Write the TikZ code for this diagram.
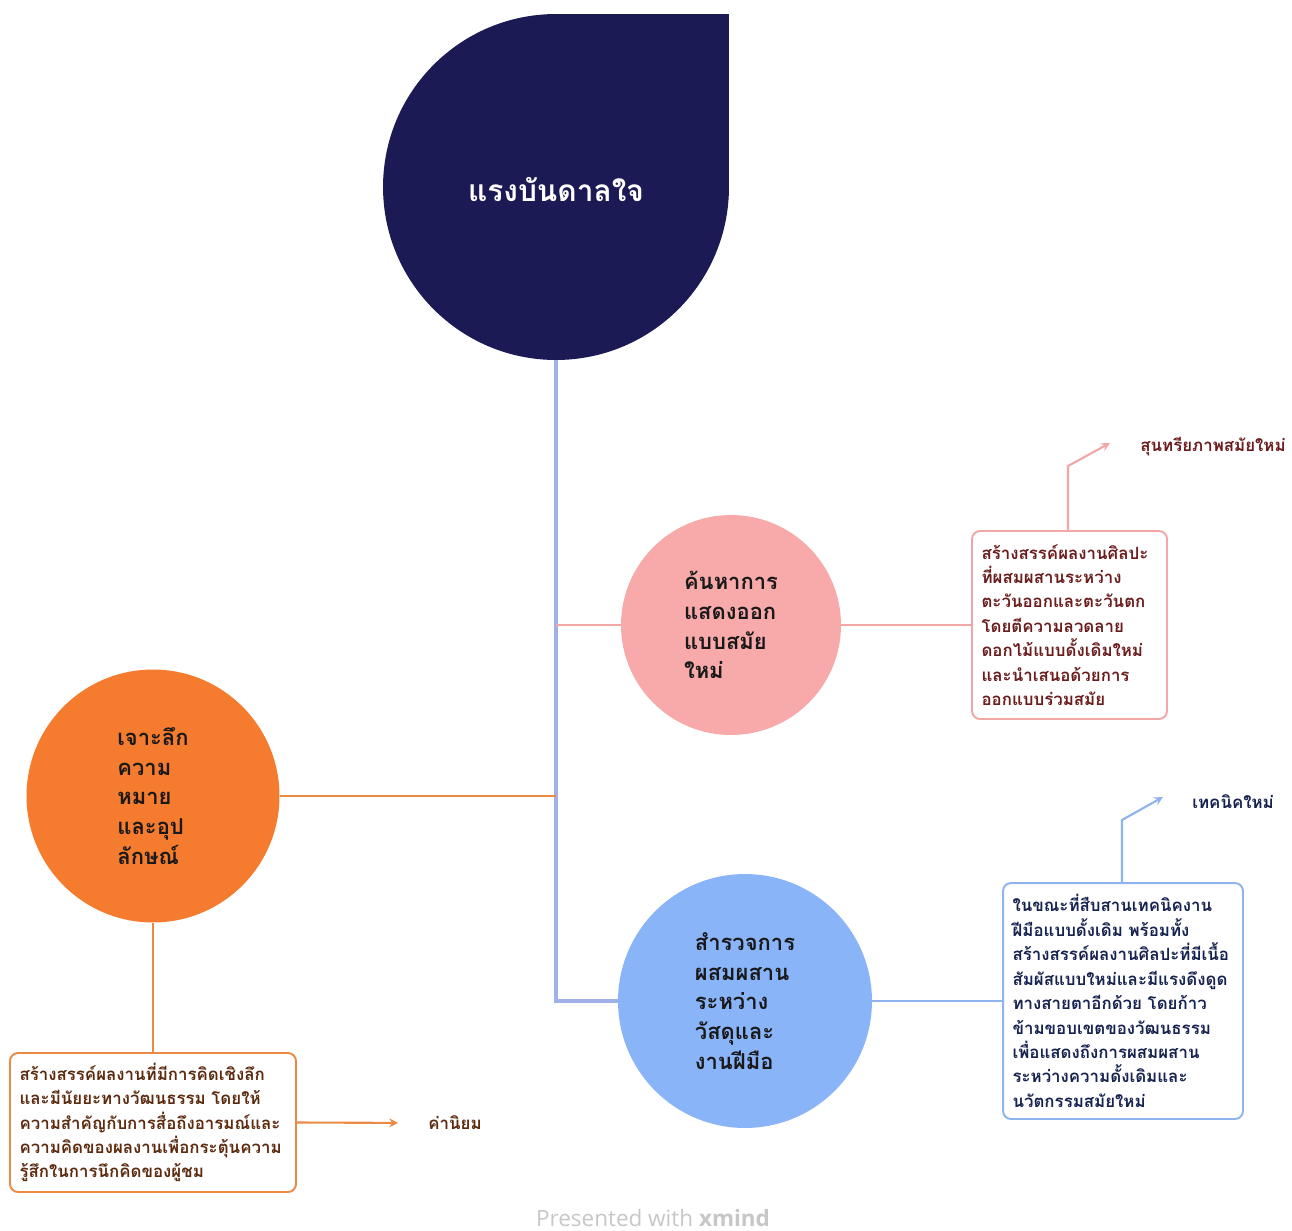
\documentclass[tikz,border=0pt]{standalone}
\usepackage{fontspec}
\usepackage{tikz}
\usetikzlibrary{calc}
\newfontfamily\thaifont[Script=Thai]{Loma}
\newfontfamily\footfont{Open Sans}
\definecolor{inknavy}{HTML}{1B1A55}
\definecolor{trunk}{HTML}{A2B0EA}
\definecolor{rose}{HTML}{F8A9A9}
\definecolor{roseline}{HTML}{F2A6A6}
\definecolor{rosetext}{HTML}{6B1C1C}
\definecolor{tangerine}{HTML}{F57C2F}
\definecolor{tanline}{HTML}{EA8A45}
\definecolor{tantext}{HTML}{5C2A0E}
\definecolor{sky}{HTML}{8AB4F8}
\definecolor{skyline}{HTML}{8EB3EE}
\definecolor{skytext}{HTML}{16224F}

\begin{document}
\begin{tikzpicture}[x=0.02cm,y=-0.02cm,>=stealth,
	topic/.style={circle,inner sep=0pt,align=left,text=black!90,font=\thaifont\bfseries\fontsize{12.5}{17}\selectfont},
	note/.style={draw,fill=white,line width=1.1pt,rounded corners=0.16cm,inner xsep=0.19cm,align=left,font=\thaifont\bfseries\fontsize{9.6}{13.9}\selectfont},
	leaf/.style={inner sep=0pt,anchor=west,font=\thaifont\bfseries\fontsize{9.6}{12}\selectfont},
	branch/.style={line width=1.2pt}]
	\useasboundingbox (0,0) rectangle (1292,1231);
	\fill[white] (0,0) rectangle (1292,1231);
	
	%CENTRAL TOPIC
	\node[circle,fill=inknavy,minimum size=6.92cm,inner sep=0pt] (core) at (556,187) {};
	\fill[inknavy] (core.center) rectangle (core.north -| core.east);
	\node[text=white,font=\thaifont\bfseries\fontsize{17}{20}\selectfont] (title) at (556,190) {แรงบันดาลใจ};
	
	%MAIN TOPICS
	\node[topic,fill=rose,minimum size=4.4cm] (pink) at (731,625) {ค้นหาการ\\แสดงออก\\แบบสมัย\\ใหม่};
	\node[topic,fill=tangerine,minimum size=5.06cm] (orange) at (153,796) {เจาะลึก\\ความ\\หมาย\\และอุป\\ลักษณ์};
	\node[topic,fill=sky,minimum size=5.08cm] (blue) at (745,1001) {สำรวจการ\\ผสมผสาน\\ระหว่าง\\วัสดุและ\\งานฝีมือ};
	
	%TRUNK
	\coordinate (elbow) at (core.south |- blue.west);
	\draw[trunk,line width=2pt] (core.south) -- (elbow) -- (blue.west);
	\draw[branch,roseline] (core.south |- pink.west) -- (pink.west);
	\draw[branch,tanline] (orange.east) -- (core.south |- orange.east);
	
	%NOTES
	\node[note,draw=roseline,text=rosetext,text width=3.52cm,minimum height=3.76cm] (pinkbox) at (1069.5,625) {สร้างสรรค์ผลงานศิลปะ\\ที่ผสมผสานระหว่าง\\ตะวันออกและตะวันตก\\โดยตีความลวดลาย\\ดอกไม้แบบดั้งเดิมใหม่\\และนำเสนอด้วยการ\\ออกแบบร่วมสมัย};
	\node[note,draw=skyline,text=skytext,text width=4.42cm,minimum height=4.72cm] (bluebox) at (1123,1001) {ในขณะที่สืบสานเทคนิคงาน\\ฝีมือแบบดั้งเดิม พร้อมทั้ง\\สร้างสรรค์ผลงานศิลปะที่มีเนื้อ\\สัมผัสแบบใหม่และมีแรงดึงดูด\\ทางสายตาอีกด้วย โดยก้าว\\ข้ามขอบเขตของวัฒนธรรม\\เพื่อแสดงถึงการผสมผสาน\\ระหว่างความดั้งเดิมและ\\นวัตกรรมสมัยใหม่};
	\node[note,draw=tanline,text=tantext,text width=5.34cm,minimum height=2.78cm] (orangebox) at (153,1122.5) {สร้างสรรค์ผลงานที่มีการคิดเชิงลึก\\และมีนัยยะทางวัฒนธรรม โดยให้\\ความสำคัญกับการสื่อถึงอารมณ์และ\\ความคิดของผลงานเพื่อกระตุ้นความ\\รู้สึกในการนึกคิดของผู้ชม};
	%
	\draw[branch,roseline] (pink.east) -- (pinkbox.west);
	\draw[branch,skyline] (blue.east) -- (bluebox.west);
	\draw[branch,tanline] (orange.south) -- (orangebox.north);
	
	%LEAVES
	\node[leaf,text=rosetext] (pinkleaf) at (1140,447) {สุนทรียภาพสมัยใหม่};
	\node[leaf,text=skytext] (blueleaf) at (1192,802) {เทคนิคใหม่};
	\node[leaf,text=tantext] (orangeleaf) at (428,1123) {ค่านิยม};
	%
	\coordinate (pinkbend) at (1068,466);
	\coordinate (pinktip) at (1110,443);
	\draw[branch,roseline,->] (pinkbend |- pinkbox.north) -- (pinkbend) -- (pinktip);
	\coordinate (bluebend) at (1122,820);
	\coordinate (bluetip) at (1163,797);
	\draw[branch,skyline,->] (bluebend |- bluebox.north) -- (bluebend) -- (bluetip);
	\draw[branch,tanline,->,shorten >=0.6cm] (orangebox.east) -- (orangeleaf.west);
	
	%FOOTER
	\node[text=black!22,font=\footfont\fontsize{12.8}{15}\selectfont] (footer) at (653,1218) {Presented with \textbf{xmind}};
\end{tikzpicture}
\end{document}
